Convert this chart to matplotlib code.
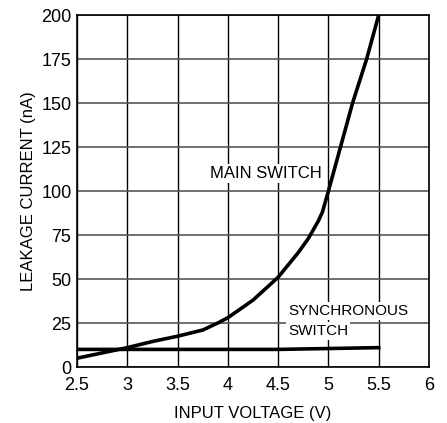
import matplotlib
matplotlib.use("Agg")
import matplotlib.pyplot as plt

# main switch leakage vs input voltage
main_v = [2.5, 2.75, 3.0, 3.25, 3.5, 3.75, 3.9, 4.0, 4.25, 4.5, 4.6, 4.7, 4.8, 4.9, 4.94, 5.0, 5.12, 5.24, 5.38, 5.5]
main_i = [5, 8, 11, 14.5, 17.5, 21, 25, 28, 38, 51, 58, 65, 73, 83, 88, 100, 125, 150, 175, 200]

# synchronous switch
sync_v = [2.5, 3.0, 4.0, 4.5, 5.0, 5.5]
sync_i = [10, 10, 10, 10, 10.5, 11]

xticks = [2.5, 3, 3.5, 4, 4.5, 5, 5.5, 6]
xticklabels = ["2.5", "3", "3.5", "4", "4.5", "5", "5.5", "6"]
yticks = [0, 25, 50, 75, 100, 125, 150, 175, 200]

plt.rcParams['font.family'] = ['Liberation Sans', 'DejaVu Sans']

fig = plt.figure(figsize=(4.47, 4.23), dpi=100)
ax = fig.add_axes([77/447, 1 - 367/423, (429-77)/447, (367-15)/423])

for x in xticks:
    ax.axvline(x, color='black', lw=1.0, zorder=1)
for y in yticks:
    ax.axhline(y, color='#555555', lw=1.2, zorder=1)

ax.plot(sync_v, sync_i, color='black', lw=2.6, zorder=3)
ax.plot(main_v, main_i, color='black', lw=2.6, zorder=3, solid_capstyle='butt')

ax.set_xlim(2.5, 6)
ax.set_ylim(0, 200)
ax.set_xticks(xticks)
ax.set_xticklabels(xticklabels)
ax.set_yticks(yticks)
ax.tick_params(length=0, labelsize=13)
ax.tick_params(axis='x', pad=7)
ax.tick_params(axis='y', pad=4)
for s in ax.spines.values():
    s.set_linewidth(1.2)

ax.set_xlabel("INPUT VOLTAGE (V)", fontsize=12, labelpad=9)
ax.set_ylabel("LEAKAGE CURRENT (nA)", fontsize=12, labelpad=4)

box = dict(facecolor='white', edgecolor='none', pad=1.5)
ax.text(4.38, 110, "MAIN SWITCH", fontsize=12, ha='center', va='center', bbox=box, zorder=2)
ax.text(4.6, 32, "SYNCHRONOUS", fontsize=11, ha='left', va='center', bbox=box, zorder=2)
ax.text(4.6, 20.5, "SWITCH", fontsize=11, ha='left', va='center', bbox=box, zorder=2)

fig.savefig("out.png", dpi=100)
